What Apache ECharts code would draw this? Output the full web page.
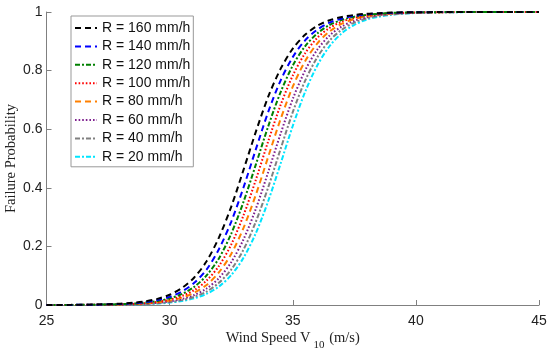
<!DOCTYPE html>
<html>
<head>
<meta charset="utf-8">
<script src="https://cdn.jsdelivr.net/npm/echarts@6/dist/echarts.min.js"></script>
<style>html,body{margin:0;padding:0;background:#fff}#c{width:550px;height:353px}</style>
</head>
<body>
<div id="c"></div>
<script>
// Wind speed V10 (m/s)
const windSpeed = [25, 26, 27, 28, 28.5, 29, 29.5, 30, 30.5, 31, 31.5, 32, 32.5, 33, 33.5, 34, 34.5, 35, 35.5, 36, 36.5, 37, 37.5, 38, 38.5, 39, 40, 41, 42, 43, 44, 45];

const seriesNames = ['R = 160 mm/h', 'R = 140 mm/h', 'R = 120 mm/h', 'R = 100 mm/h', 'R = 80 mm/h', 'R = 60 mm/h', 'R = 40 mm/h', 'R = 20 mm/h'];

// Failure probability per rainfall intensity
const pR160 = [0.0002, 0.0005, 0.0016, 0.0044, 0.0075, 0.0125, 0.021, 0.035, 0.058, 0.094, 0.149, 0.230, 0.335, 0.461, 0.591, 0.710, 0.805, 0.875, 0.922, 0.953, 0.972, 0.983, 0.990, 0.994, 0.996, 0.998, 0.9993, 0.9997, 0.9999, 1, 1, 1];
const pR140 = [0.00015, 0.0004, 0.0012, 0.0035, 0.0058, 0.0098, 0.0166, 0.0276, 0.046, 0.0756, 0.121, 0.190, 0.284, 0.401, 0.531, 0.658, 0.765, 0.846, 0.903, 0.940, 0.964, 0.978, 0.987, 0.992, 0.995, 0.997, 0.9991, 0.9997, 0.9999, 1, 1, 1];
const pR120 = [0.00012, 0.00034, 0.001, 0.0028, 0.0047, 0.008, 0.0135, 0.0225, 0.0377, 0.062, 0.101, 0.159, 0.243, 0.352, 0.479, 0.609, 0.725, 0.817, 0.883, 0.927, 0.956, 0.973, 0.984, 0.990, 0.994, 0.997, 0.9988, 0.9996, 0.9999, 1, 1, 1];
const pR100 = [0.0001, 0.00028, 0.0008, 0.0023, 0.0038, 0.0065, 0.0109, 0.0183, 0.0308, 0.0509, 0.0832, 0.133, 0.206, 0.306, 0.427, 0.558, 0.681, 0.783, 0.859, 0.912, 0.946, 0.967, 0.980, 0.988, 0.993, 0.996, 0.9986, 0.9995, 0.9998, 0.9999, 1, 1];
const pR80 = [0.00008, 0.00022, 0.00064, 0.0019, 0.0031, 0.0053, 0.0088, 0.0149, 0.0251, 0.0416, 0.0685, 0.111, 0.174, 0.263, 0.376, 0.505, 0.633, 0.745, 0.832, 0.893, 0.934, 0.960, 0.976, 0.986, 0.9915, 0.995, 0.9982, 0.9994, 0.9998, 0.9999, 1, 1];
const pR60 = [0.00006, 0.00018, 0.00052, 0.0015, 0.0025, 0.0043, 0.0072, 0.0121, 0.0204, 0.034, 0.0562, 0.0916, 0.146, 0.224, 0.328, 0.453, 0.583, 0.703, 0.800, 0.872, 0.920, 0.951, 0.970, 0.982, 0.9895, 0.9938, 0.9978, 0.9992, 0.9997, 0.9999, 1, 1];
const pR40 = [0.00005, 0.00015, 0.00042, 0.0012, 0.002, 0.0035, 0.0058, 0.0098, 0.0166, 0.0277, 0.046, 0.0756, 0.121, 0.189, 0.284, 0.401, 0.531, 0.658, 0.765, 0.846, 0.903, 0.940, 0.964, 0.978, 0.987, 0.992, 0.9973, 0.9991, 0.9997, 0.9999, 1, 1];
const pR20 = [0.00004, 0.00012, 0.00035, 0.001, 0.0017, 0.0028, 0.0048, 0.0081, 0.0136, 0.0228, 0.038, 0.0627, 0.102, 0.161, 0.245, 0.354, 0.481, 0.611, 0.727, 0.818, 0.884, 0.928, 0.956, 0.974, 0.984, 0.9906, 0.9967, 0.9989, 0.9996, 0.9999, 1, 1];

const xTicks = [25, 30, 35, 40, 45];
const yTicks = [0, 0.2, 0.4, 0.6, 0.8, 1];

const allP = [pR160, pR140, pR120, pR100, pR80, pR60, pR40, pR20];
const colors = ['#000000', '#0000ff', '#008000', '#ff0000', '#ff8000', '#7e1f8e', '#808080', '#00e5ff'];
const dashes = [[6, 4], [6, 4], [5, 2, 2, 2], [1.6, 2], [6, 4], [1.6, 2], [5, 2, 2, 2], [5, 2, 2, 2]];

const chart = echarts.init(document.getElementById('c'), null, {renderer: 'canvas'});
const series = seriesNames.map((n, i) => ({
  name: n,
  type: 'line',
  symbol: 'none',
  smooth: 0.3,
  data: windSpeed.map((x, j) => [x, allP[i][j]]),
  lineStyle: {color: colors[i], width: 2, type: dashes[i]},
  itemStyle: {color: colors[i]},
  z: 10 - i
}));

chart.setOption({
  animation: false,
  backgroundColor: '#ffffff',
  grid: {left: 46.5, right: 11, top: 12, bottom: 48, containLabel: false, outerBoundsMode: 'none'},
  xAxis: {
    type: 'value', min: xTicks[0], max: xTicks[xTicks.length - 1], interval: 5,
    name: 'Wind Speed V{sub|10} (m/s)',
    nameLocation: 'middle', nameGap: 25.5, nameMoveOverlap: false,
    nameTextStyle: {fontFamily: 'Liberation Serif', fontSize: 14.5, color: '#222', lineHeight: 16, verticalAlign: 'top',
      rich: {sub: {fontFamily: 'Liberation Serif', fontSize: 11, lineHeight: 11, padding: [9, 1, 0, 3], verticalAlign: 'top'}}},
    axisLine: {lineStyle: {color: '#808080', width: 1}},
    axisTick: {inside: true, length: 5, lineStyle: {color: '#808080'}},
    axisLabel: {fontFamily: 'Liberation Sans', fontSize: 14, color: '#222', margin: 9},
    splitLine: {show: false}
  },
  yAxis: {
    type: 'value', min: yTicks[0], max: yTicks[yTicks.length - 1], interval: 0.2,
    name: 'Failure Probability',
    nameLocation: 'middle', nameGap: 28, nameRotate: 90, nameMoveOverlap: false,
    nameTextStyle: {fontFamily: 'Liberation Serif', fontSize: 14.5, color: '#222'},
    axisLine: {show: true, lineStyle: {color: '#808080', width: 1}},
    axisTick: {show: true, inside: true, length: 5, lineStyle: {color: '#808080'}},
    axisLabel: {fontFamily: 'Liberation Sans', fontSize: 14, color: '#222', margin: 4,
      formatter: v => String(Math.round(v * 10) / 10)},
    splitLine: {show: false}
  },
  legend: {
    orient: 'vertical', left: 71, top: 16,
    data: seriesNames,
    itemWidth: 22, itemHeight: 16, itemGap: 2.4,
    padding: [4, 3, 2, 3],
    borderColor: '#999', borderWidth: 1, backgroundColor: '#fff',
    itemStyle: {opacity: 0},
    textStyle: {fontFamily: 'Liberation Sans', fontSize: 14, color: '#111', lineHeight: 16}
  },
  series: series
});
</script>
</body>
</html>
